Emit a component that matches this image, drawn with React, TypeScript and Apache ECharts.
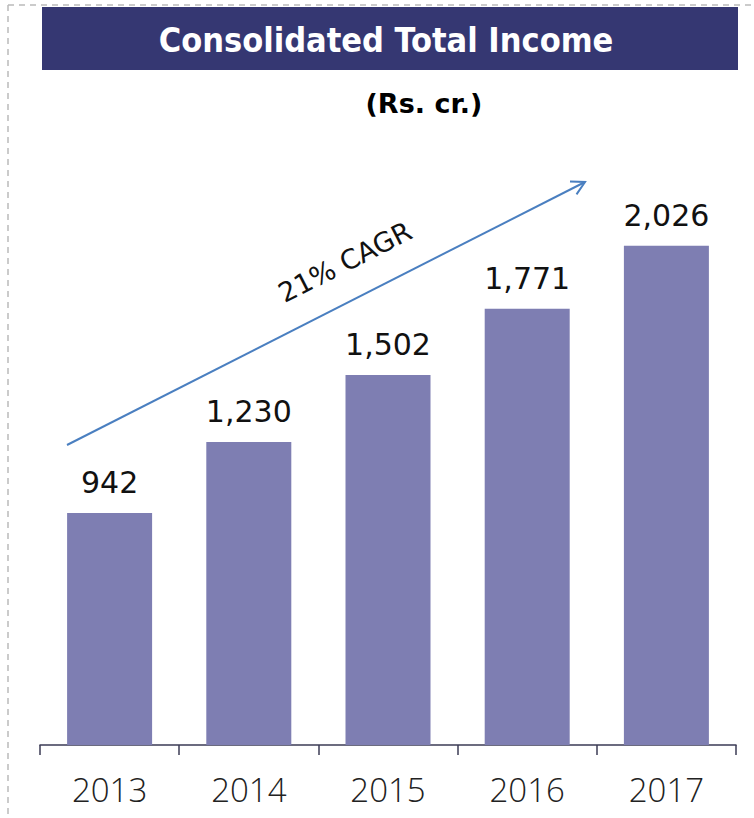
import React, { useEffect, useRef } from "react";
import * as echarts from "echarts";

const categories = ["2013", "2014", "2015", "2016", "2017"];
const incomeValues = [942, 1230, 1502, 1771, 2026];
const titleText = "Consolidated Total Income";
const unitText = "(Rs. cr.)";
const cagrText = "21% CAGR";

export default function App() {
  const ref = useRef<HTMLDivElement>(null);
  useEffect(() => {
    document.body.style.margin = "0";
    const chart = echarts.init(ref.current!, null, { renderer: "svg" });
    const ax0 = 67, ay0 = 445, ax1 = 585, ay1 = 182;
    const ang = Math.atan2(ay1 - ay0, ax1 - ax0);
    const headLen = 15;
    const h1 = [ax1 - headLen * Math.cos(ang - 0.5), ay1 - headLen * Math.sin(ang - 0.5)];
    const h2 = [ax1 - headLen * Math.cos(ang + 0.5), ay1 - headLen * Math.sin(ang + 0.5)];
    chart.setOption({
      animation: false,
      grid: { left: 40, right: 18, top: 129, bottom: 73 },
      xAxis: {
        type: "category",
        data: categories,
        axisLine: { show: true, lineStyle: { color: "#3b3b55", width: 1.5 } },
        axisTick: { show: true, interval: 0, length: 10, lineStyle: { color: "#3b3b55", width: 1.5 } },
        axisLabel: {
          fontSize: 33,
          color: "#222",
          fontFamily: "Open Sans",
          fontWeight: 300,
          margin: 28,
        },
      },
      yAxis: { type: "value", min: 0, max: 2500, show: false, splitLine: { show: false } },
      series: [
        {
          type: "bar",
          data: incomeValues,
          barWidth: 85,
          itemStyle: { color: "#7e7eb2" },
          label: {
            show: true,
            position: "top",
            distance: 15,
            fontSize: 30,
            fontFamily: "DejaVu Sans",
            color: "#111",
            formatter: (p: any) => Number(p.value).toLocaleString("en-US"),
          },
        },
      ],
      graphic: [
        { type: "line", shape: { x1: 8, y1: 5, x2: 754, y2: 5 }, style: { stroke: "#bbb", lineWidth: 1.5, lineDash: [6, 5] } },
        { type: "line", shape: { x1: 8, y1: 5, x2: 8, y2: 818 }, style: { stroke: "#bbb", lineWidth: 1.5, lineDash: [6, 5] } },
        { type: "rect", shape: { x: 42, y: 7, width: 696, height: 63 }, style: { fill: "#353772" } },
        {
          type: "text",
          x: 386,
          y: 40,
          style: {
            text: titleText,
            fill: "#fff",
            font: "bold 34px 'DejaVu Sans Condensed'",
            textAlign: "center",
            textVerticalAlign: "middle",
          },
        },
        {
          type: "text",
          x: 424,
          y: 103,
          style: {
            text: unitText,
            fill: "#000",
            font: "bold 27px 'DejaVu Sans'",
            textAlign: "center",
            textVerticalAlign: "middle",
          },
        },
        { type: "polyline", shape: { points: [[ax0, ay0], [ax1, ay1]] }, style: { stroke: "#4a7fc0", lineWidth: 2 } },
        { type: "polyline", shape: { points: [h1, [ax1, ay1], h2] }, style: { stroke: "#4a7fc0", lineWidth: 2, fill: "none" } },
        {
          type: "text",
          x: 345,
          y: 262,
          rotation: -ang,
          style: {
            text: cagrText,
            fill: "#111",
            font: "27px 'DejaVu Sans'",
            textAlign: "center",
            textVerticalAlign: "middle",
          },
        },
      ],
    });
    return () => chart.dispose();
  }, []);
  return <div ref={ref} style={{ position: "absolute", left: 0, top: 0, width: 754, height: 818 }} />;
}
